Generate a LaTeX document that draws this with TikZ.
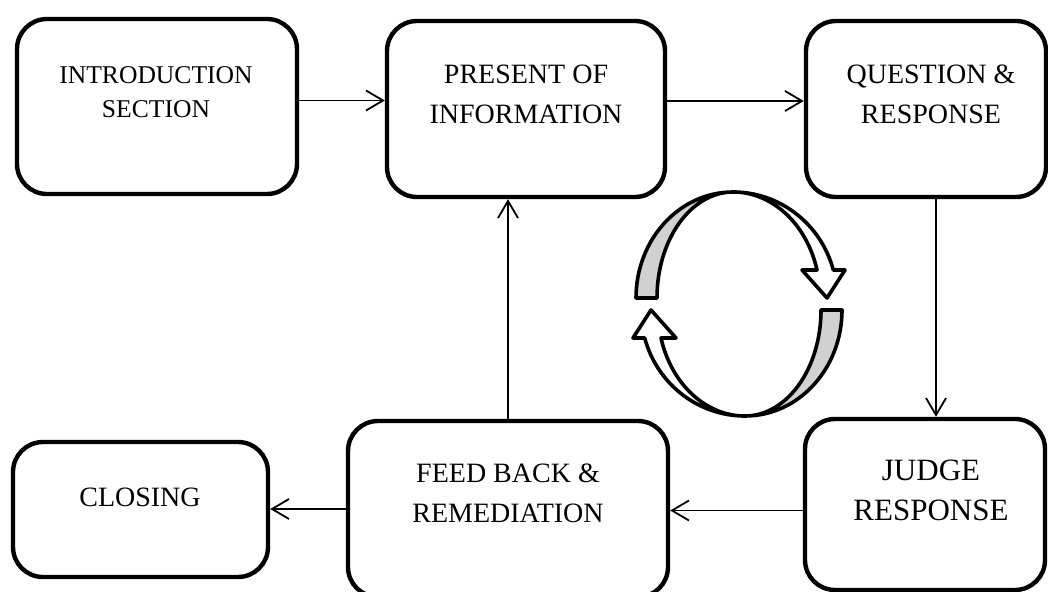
\documentclass[tikz,border=0pt]{standalone}
\usepackage{fontspec}
\setmainfont{Liberation Serif}
\usetikzlibrary{arrows.meta}

\begin{document}
\begin{tikzpicture}[x=0.5pt, y=0.5pt,
    box/.style={draw, line width=2.2pt, rounded corners=15pt},
    lbl/.style={align=center, font=\fontsize{14}{20}\selectfont},
    flow/.style={line width=0.9pt, -{Straight Barb[length=8.5pt,width=10pt]}},
    ring/.style={draw, line width=1.8pt, line join=round}]
  \useasboundingbox (0,0) rectangle (1048,-592);

  %% boxes
  \node[box, minimum width=140pt, minimum height=87.5pt] (intro)    at (157,-106.5) {};
  \node[box, minimum width=139pt, minimum height=88pt]   (present)  at (526,-109)   {};
  \node[box, minimum width=120pt, minimum height=88pt]   (question) at (926,-109)   {};
  \node[box, minimum width=120pt, minimum height=85.5pt] (judge)    at (925,-504.5) {};
  \node[box, minimum width=160pt, minimum height=88pt]   (feedback) at (508,-509)   {};
  \node[box, minimum width=127.5pt, minimum height=67.5pt] (closing) at (140.5,-509.5) {};

  %% texts
  \node[lbl, font=\fontsize{12.8}{17}\selectfont] (introtxt) at (156,-92) {INTRODUCTION\\SECTION};
  \node[lbl] (presenttxt)  at (526,-94)  {PRESENT OF\\INFORMATION};
  \node[lbl] (questiontxt) at (931,-94)  {QUESTION \&\\RESPONSE};
  \node[lbl, font=\fontsize{15.5}{20}\selectfont] (judgetxt) at (931,-490) {JUDGE\\RESPONSE};
  \node[lbl] (feedbacktxt) at (508,-493) {FEED BACK \&\\REMEDIATION};
  \node[lbl] (closingtxt)  at (140,-497) {CLOSING};

  %% connectors
  \draw[flow] ([yshift=3]intro.east) -- ([yshift=3]intro.east -| present.west);
  \draw[flow] ([yshift=4]present.east) -- ([yshift=4]present.east -| question.west);
  \draw[flow] ([xshift=5]question.south) -- ([xshift=5]question.south |- judge.north);
  \draw[flow] ([yshift=-3]judge.west) -- ([yshift=-3]judge.west -| feedback.east);
  \draw[flow] (feedback.north) -- (feedback.north |- present.south);
  \draw[flow] (feedback.west) -- (feedback.west -| closing.east);

  %% turning arrows in the middle
  \begin{scope}[shift={(739,-304)}]
    \filldraw[ring, fill=white] (-6,112) arc[start angle=90, end angle=15.3, x radius=104, y radius=106]
      -- (106,34) -- (88,6) -- (63,34) -- (78,34)
      arc[start angle=15.3, end angle=90, x radius=87, y radius=106] -- cycle;
    \filldraw[ring, fill=black!18] (-103,6) arc[start angle=180, end angle=90, x radius=97, y radius=106]
      arc[start angle=90, end angle=180, x radius=76, y radius=106] -- cycle;
  \end{scope}
  \begin{scope}[shift={(739,-304)}, rotate=180]
    \filldraw[ring, fill=white] (-6,112) arc[start angle=90, end angle=15.3, x radius=104, y radius=106]
      -- (106,34) -- (88,6) -- (63,34) -- (78,34)
      arc[start angle=15.3, end angle=90, x radius=87, y radius=106] -- cycle;
    \filldraw[ring, fill=black!18] (-103,6) arc[start angle=180, end angle=90, x radius=97, y radius=106]
      arc[start angle=90, end angle=180, x radius=76, y radius=106] -- cycle;
  \end{scope}
\end{tikzpicture}
\end{document}
